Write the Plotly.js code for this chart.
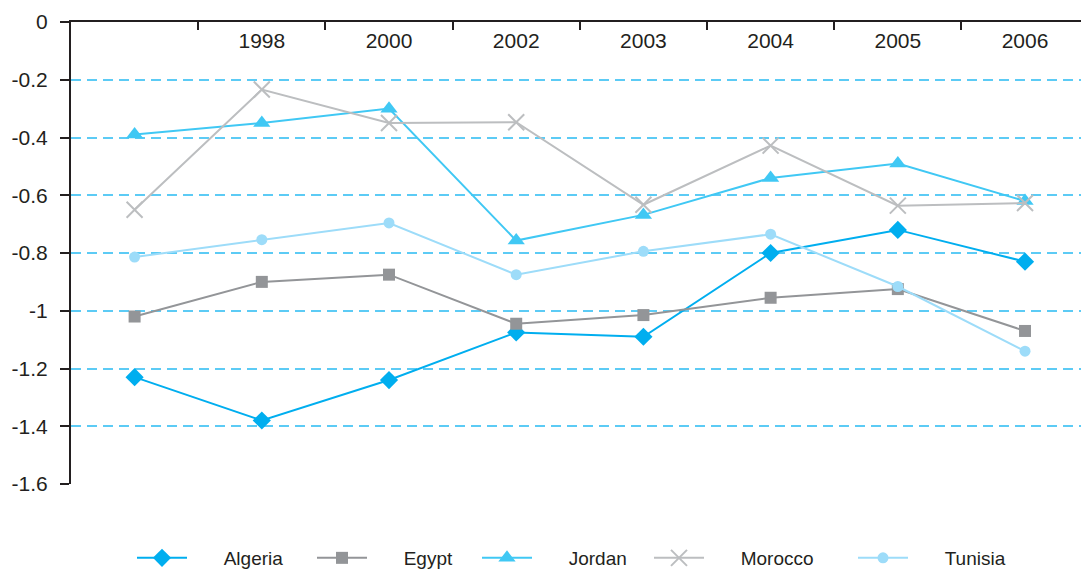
<!DOCTYPE html>
<html><head><meta charset="utf-8">
<script src="https://cdn.plot.ly/plotly-3.0.1.min.js"></script>
<style>html,body{margin:0;padding:0;background:#fff}</style>
</head><body><div id="chart" style="width:1081px;height:570px"></div>
<script>
// Categories (first period has no printed label in the source)
const periods = ["", "1998", "2000", "2002", "2003", "2004", "2005", "2006"];
const algeria = [-1.23, -1.38, -1.24, -1.075, -1.09, -0.80, -0.72, -0.83];
const egypt   = [-1.02, -0.90, -0.875, -1.045, -1.015, -0.955, -0.925, -1.07];
const jordan  = [-0.39, -0.35, -0.30, -0.757, -0.668, -0.54, -0.49, -0.62];
const morocco = [-0.65, -0.234, -0.35, -0.347, -0.633, -0.428, -0.636, -0.627];
const tunisia = [-0.814, -0.754, -0.696, -0.875, -0.794, -0.735, -0.916, -1.14];
const yTickVals = [0, -0.2, -0.4, -0.6, -0.8, -1, -1.2, -1.4, -1.6];
const yTickText = ["0", "-0.2", "-0.4", "-0.6", "-0.8", "-1", "-1.2", "-1.4", "-1.6"];

const xIdx = periods.map((_, i) => i);
const bounds = periods.map((_, i) => i - 0.5).concat([periods.length - 0.5]);

const FONT = "Liberation Sans, Arial, Helvetica, sans-serif";
const TXT = "#231f20";
const PAD = "\u00a0\u00a0\u00a0\u00a0\u00a0\u00a0";

function tr(name, y, color, symbol, size, legend, extra) {
  return Object.assign({
    type: "scatter", mode: "lines+markers", name: PAD + name,
    x: xIdx, y: y, xaxis: "x", yaxis: "y", legend: legend,
    line: {color: color, width: 2},
    marker: {symbol: symbol, size: size, color: color}
  }, extra || {});
}

const traces = [
  tr("Algeria", algeria, "#00aeef", "diamond", 14, "legend"),
  tr("Egypt", egypt, "#939598", "square", 12, "legend2"),
  tr("Jordan", jordan, "#40c8f4", "triangle-up", 15, "legend3"),
  tr("Morocco", morocco, "#bcbec0", "x-thin-open", 16, "legend4",
     {marker: {symbol: "x-thin-open", size: 16, color: "#bcbec0", line: {color: "#bcbec0", width: 2}}}),
  tr("Tunisia", tunisia, "#9ddcf9", "circle", 11, "legend5")
];
// invisible trace carrying the centred period labels on xaxis2
traces.push({type: "scatter", x: xIdx, y: xIdx.map(() => null), xaxis: "x2", yaxis: "y",
  showlegend: false, hoverinfo: "skip"});

const plotL = 71, plotR = 1081;
function legPos(px) { return (px - plotL) / (plotR - plotL); }
function leg(px) {
  return {orientation: "h", x: legPos(px), xanchor: "left",
    yref: "container", y: (570 - 558) / 570, yanchor: "middle",
    font: {family: FONT, size: 19, color: TXT}, bgcolor: "rgba(0,0,0,0)",
    itemwidth: 50, borderwidth: 0};
}

const layout = {
  width: 1081, height: 570,
  margin: {l: plotL, r: 0, t: 22, b: 86},
  paper_bgcolor: "#fff", plot_bgcolor: "#fff",
  font: {family: FONT, size: 21, color: TXT},
  xaxis: {
    type: "linear", range: [-0.5, 7.44], side: "top",
    tickmode: "array", tickvals: bounds, ticktext: bounds.map(() => ""),
    ticks: "inside", ticklen: 8, tickwidth: 2, tickcolor: "#231f20",
    showline: true, linecolor: "#231f20", linewidth: 2, mirror: false,
    showgrid: false, zeroline: false, fixedrange: true
  },
  xaxis2: {
    type: "linear", overlaying: "x", matches: "x", side: "bottom",
    anchor: "free", position: 1,
    tickmode: "array", tickvals: xIdx, ticktext: periods,
    ticks: "", ticklabelstandoff: 4,
    tickfont: {family: FONT, size: 21, color: TXT},
    showline: false, showgrid: false, zeroline: false
  },
  yaxis: {
    range: [-1.6, 0], tickmode: "array", tickvals: yTickVals, ticktext: yTickText,
    ticks: "outside", ticklen: 9, tickwidth: 2, tickcolor: "#231f20",
    ticklabelstandoff: 8,
    tickfont: {family: FONT, size: 21, color: TXT},
    showline: true, linecolor: "#231f20", linewidth: 2,
    showgrid: true, gridcolor: "#5ccbf5", gridwidth: 2, griddash: "10px,6px",
    zeroline: false
  },
  showlegend: true,
  legend: leg(132), legend2: leg(312), legend3: leg(477), legend4: leg(649), legend5: leg(853)
};

Plotly.newPlot("chart", traces, layout, {displayModeBar: false, staticPlot: true});
</script></body></html>
